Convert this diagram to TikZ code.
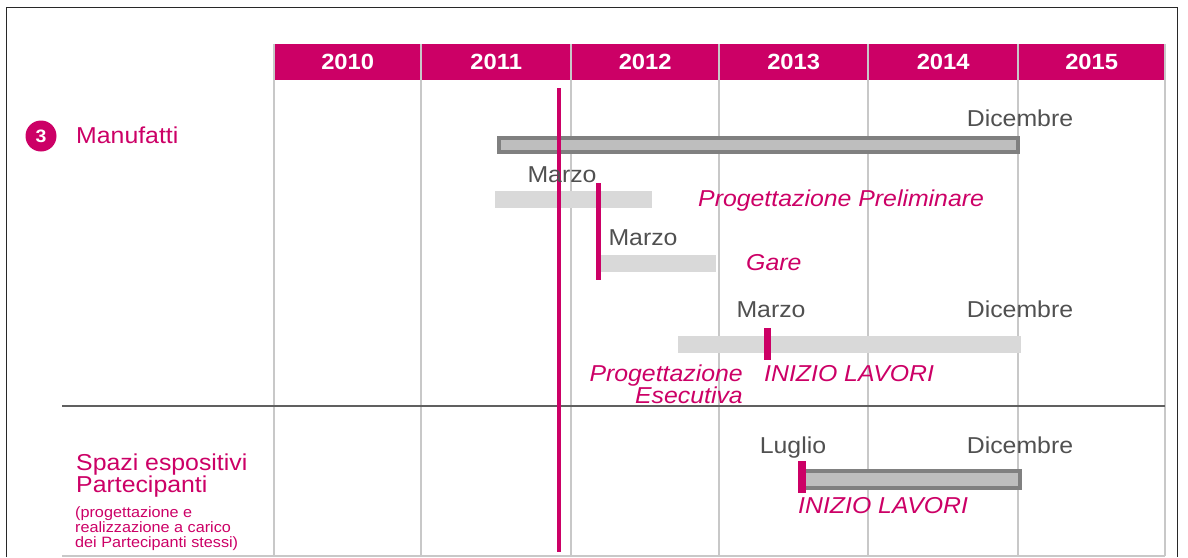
\documentclass[tikz,border=0pt]{standalone}
\usepackage{fontspec}
\setmainfont{Liberation Sans}[FakeStretch=1.08]
\definecolor{mag}{RGB}{204,0,102}
\definecolor{grid}{RGB}{200,200,200}
\definecolor{bardark}{RGB}{128,128,128}
\definecolor{barfill}{RGB}{190,190,190}
\definecolor{barlight}{RGB}{217,217,217}
\definecolor{monthc}{RGB}{80,80,80}
\definecolor{framec}{RGB}{40,40,40}
\begin{document}
\begin{tikzpicture}[x=1pt,y=-1pt,
  yearcell/.style={fill=mag,text=white,font=\bfseries\fontsize{22}{24}\selectfont,minimum width=147,minimum height=36,inner sep=0,anchor=north west},
  month/.style={text=monthc,font=\fontsize{23}{24}\selectfont,inner sep=0,anchor=base},
  ital/.style={text=mag,font=\itshape\fontsize{23}{24}\selectfont,inner sep=0},
  lefttxt/.style={text=mag,font=\fontsize{23}{24}\selectfont,inner sep=0,anchor=base west},
  smalltxt/.style={text=mag,font=\fontsize{15}{15}\selectfont,inner sep=0,anchor=base west},
  mainbar/.style={draw=bardark,line width=4pt,fill=barfill,inner sep=0,anchor=north west},
  lightbar/.style={fill=barlight,inner sep=0,anchor=north west},
  marker/.style={fill=mag,inner sep=0,anchor=north west},
  gridline/.style={draw=grid,line width=1.5pt},
]
\useasboundingbox (0,0) rectangle (1188,557);
% frame
\draw[framec,line width=1.5pt] (6.5,557) -- (6.5,7.5) -- (1177.5,7.5) -- (1177.5,557);
% header
\node[yearcell] (y2010) at (274,44) {2010};
\node[yearcell,minimum width=150] (y2011) at (421,44) {2011};
\node[yearcell,minimum width=148] (y2012) at (571,44) {2012};
\node[yearcell,minimum width=149] (y2013) at (719,44) {2013};
\node[yearcell,minimum width=150] (y2014) at (868,44) {2014};
\node[yearcell,minimum width=147] (y2015) at (1018,44) {2015};
% grid
\foreach \x in {274,421,571,719,868,1018,1165}{
  \draw[gridline] (\x,44) -- (\x,556);
}
\draw[draw=gray!75!black,line width=1.5pt] (62,406) -- (1165,406);
\draw[gridline] (62,556) -- (1165,556);
% left labels
\node[circle,fill=mag,minimum size=31,inner sep=0,text=white,font=\bfseries\fontsize{18}{20}\selectfont] (c3) at (41,136) {3};
\node[lefttxt] (manuf) at (76,143) {Manufatti};
\node[lefttxt] (spazi1) at (76,470) {Spazi espositivi};
\node[lefttxt] (spazi2) at (76,492) {Partecipanti};
\node[smalltxt] (sm1) at (75,517) {(progettazione e};
\node[smalltxt] (sm2) at (75,532) {realizzazione a carico};
\node[smalltxt] (sm3) at (75,547) {dei Partecipanti stessi)};
% bars
\node[mainbar,minimum width=519,minimum height=14] (bar1) at (497,136) {};
\node[lightbar,minimum width=157,minimum height=17] (bar2) at (495,191) {};
\node[lightbar,minimum width=116,minimum height=17] (bar3) at (600,255) {};
\node[lightbar,minimum width=343,minimum height=17] (bar4) at (678,336) {};
\node[mainbar,minimum width=219,minimum height=17] (bar5) at (799,469) {};
% markers
\node[marker,minimum width=4,minimum height=464] (today) at (557,88) {};
\node[marker,minimum width=5,minimum height=97] (m1) at (596,183) {};
\node[marker,minimum width=7,minimum height=32] (m3) at (764,328) {};
\node[marker,minimum width=8,minimum height=32] (m4) at (798,461) {};
% month labels
\node[month] (dic1) at (1020,126) {Dicembre};
\node[month] (mar1) at (562,182) {Marzo};
\node[month] (mar2) at (643,245) {Marzo};
\node[month] (mar3) at (771,317) {Marzo};
\node[month] (dic3) at (1020,317) {Dicembre};
\node[month] (lug4) at (793,453) {Luglio};
\node[month] (dic4) at (1020,453) {Dicembre};
% italic labels
\node[ital,anchor=base west] (pp) at (698,206) {Progettazione Preliminare};
\node[ital,anchor=base west] (gare) at (746,270) {Gare};
\node[ital,anchor=base east] (pe1) at (743,381) {Progettazione};
\node[ital,anchor=base east] (pe2) at (743,403) {Esecutiva};
\node[ital,anchor=base west] (il1) at (764,381) {INIZIO LAVORI};
\node[ital,anchor=base west] (il2) at (798,513) {INIZIO LAVORI};
\end{tikzpicture}
\end{document}
